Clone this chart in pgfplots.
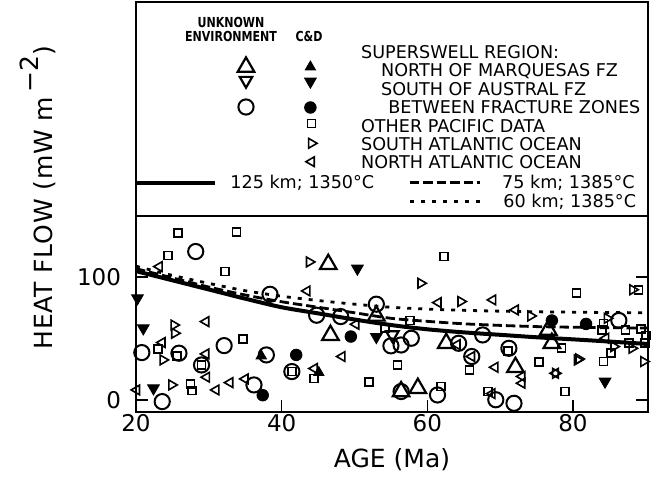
\documentclass[border=0pt]{standalone}
\usepackage{graphicx}
\usepackage{pgfplots}
\pgfplotsset{compat=1.18}
\usepackage{fontspec}
\setmainfont{DejaVu Sans}
\newcommand\legfont{\fontsize{8.8}{10.5}\selectfont}
\newcommand\hd[1]{\scalebox{0.8}[1]{\fontsize{6.9}{8}\selectfont\bfseries #1}}
\pgfplotsset{
  otri/.style={only marks, black, mark=triangle, mark size=4.8pt, mark options={line width=1.1pt}},
  odtri/.style={only marks, black, mark=triangle, mark size=3.6pt, mark options={rotate=180, line width=1.1pt}},
  ocirc/.style={only marks, black, mark=o, mark size=3.8pt, mark options={line width=1pt}},
  ftri/.style={only marks, black, mark=triangle*, mark size=3pt},
  fdtri/.style={only marks, black, mark=triangle*, mark size=3.4pt, mark options={rotate=180}},
  fcirc/.style={only marks, black, mark=*, mark size=2.9pt},
  sq/.style={only marks, black, mark=square, mark size=2pt, mark options={line width=0.8pt}},
  rtri/.style={only marks, black, mark=triangle, mark size=2.8pt, mark options={rotate=-90, line width=0.8pt}},
  ltri/.style={only marks, black, mark=triangle, mark size=2.8pt, mark options={rotate=90, line width=0.8pt}},
  csolid/.style={black, no marks, line width=2pt},
  cdash/.style={black, no marks, line width=1.4pt, dash pattern=on 4.7pt off 2pt},
  cdot/.style={black, no marks, line width=1.4pt, dash pattern=on 2pt off 3.5pt},
}
\begin{document}
\begin{tikzpicture}
\useasboundingbox (-68pt,-32.5pt) rectangle (259.5pt,206pt);
\begin{axis}[name=main, at={(0,0)}, anchor=south west, scale only axis,
  width=256pt, height=98pt,
  xmin=20, xmax=90.3, ymin=-10, ymax=150,
  xtick={20,40,60,80}, ytick={0,100}, xtick pos=bottom,
  major tick length=6pt, tick style={line width=0.8pt,black},
  axis line style={line width=1pt},
  /pgf/number format/assume math mode=true,
  ticklabel style={font=\fontsize{11.5}{13}\selectfont},
  yticklabel style={xshift=-4pt}, xticklabel style={yshift=2.3pt},
  xlabel={AGE (Ma)}, ylabel={\addfontfeature{LetterSpace=3}HEAT FLOW (mW m\,\raisebox{0.55em}{−2})},
  label style={font=\fontsize{12.5}{14}\selectfont},
  xlabel style={at={(axis description cs:0.5,-0.245)}, anchor=center},
  ylabel style={at={(axis description cs:-0.164,1.095)}, anchor=base},
]
\addplot[csolid, smooth] coordinates {(20,105) (25,97.5) (30,90) (35,82.5) (40,75.5) (45,70.5) (50,65.5) (55,61) (60,57.5) (65,55) (70,53) (75,51) (80,49.3) (85,47.5) (90.3,45.5)};
\addplot[cdash, smooth] coordinates {(20,107) (25,99.5) (30,92) (35,85.5) (40,80) (45,75.5) (50,71) (55,66.5) (60,64) (65,62) (70,60.7) (75,59.7) (80,59.2) (85,58.8) (90.3,58.5)};
\addplot[cdot, smooth] coordinates {(20,109) (25,101.5) (30,95) (35,89) (40,84.5) (45,81) (50,78) (55,75.5) (60,74) (65,73) (70,72.3) (75,71.8) (80,71.5) (85,71.2) (90.3,71)};
% other Pacific
\addplot[sq] coordinates {(25.8,135.9) (33.8,136.7) (24.4,117.7) (32.2,104.6) (34.7,49.4) (23.0,41.2) (25.6,35.8) (29.0,28.4) (27.5,12.9) (27.7,7.5) (41.4,23) (44.4,17.3) (52.0,14.5) (54.2,58.4) (57.6,64.7) (55.9,28.4) (62.3,116.9) (61.9,10.8) (65.8,24.3) (68.3,6.7) (71.1,40) (75.3,30.6) (78.4,42) (78.9,6.7) (80.5,86.9) (89.0,89.6) (84.2,62.4) (84.0,57.0) (87.2,57) (89.3,57.6) (90.0,52.6) (87.7,46.1) (85.2,38) (84.2,31.2) (89.9,46.1)};
% South Atlantic
\addplot[rtri] coordinates {(25.2,61) (25.3,54.3) (23.7,32.5) (24.9,12.1) (43.8,112.5) (59.1,95.1) (64.6,80.2) (74.2,68.4) (88.2,89.8) (84.7,66.5) (85.6,43.4) (88.1,42) (89.7,31.2) (80.6,32.5) (80.8,33.3) (77.6,21.6)};
% North Atlantic
\addplot[ltri] coordinates {(23.2,108.7) (29.6,63.8) (23.6,46.7) (29.6,37.4) (29.7,18.4) (31.0,8.0) (32.9,14.0) (35.0,17) (20.1,8) (43.5,88.8) (44.5,25.5) (48.3,35.3) (50.2,61.6) (61.5,79.3) (69.0,81.5) (72.1,73.3) (69.3,26.5) (73.0,19) (73.0,13.5) (77.6,21.6) (84.5,50.2) (64.1,45) (66.1,35.3) (68.9,5)};
% unknown environment
\addplot[otri] coordinates {(46.4,110.6) (46.7,52.7) (53.0,68.5) (62.6,46.1) (72.1,26.5) (76.6,57) (77.1,46.1) (56.4,6.7) (58.7,9.4)};
\addplot[odtri] coordinates {(55.2,53)};
\addplot[ocirc] coordinates {(28.2,121) (20.8,38.5) (25.9,38) (32.1,44.2) (29.0,28.4) (23.6,-1.5) (36.2,12.1) (37.9,36.6) (38.4,86.1) (41.4,23) (44.8,69) (48.1,67.9) (53.0,78) (55.0,44) (56.4,44.7) (57.8,50.2) (56.4,6.7) (61.4,3.9) (64.3,46.1) (66.1,35.3) (67.6,52.9) (71.2,42) (69.4,0) (71.9,-2.9) (86.3,64.7)};
% C&D
\addplot[ftri] coordinates {(37.2,35.8) (45.1,22.2)};
\addplot[fdtri] coordinates {(20.2,82.9) (21.0,58.4) (22.4,9.4) (50.4,107.1) (53.0,51.3) (84.4,14.9)};
\addplot[fcirc] coordinates {(37.4,3.7) (42.0,36.6) (49.5,51.6) (77.1,64.7) (81.8,61.9)};
\end{axis}
\begin{axis}[name=leg, at={(0,98pt)}, anchor=south west, scale only axis,
  width=256pt, height=107pt, xmin=0, xmax=512, ymin=0, ymax=214,
  xtick=\empty, ytick=\empty, axis line style={line width=1pt}, clip=false]
\node[anchor=base, inner sep=0] at (axis cs:95,188.1) {\hd{UNKNOWN}};
\node[anchor=base, inner sep=0] at (axis cs:95,174.7) {\hd{ENVIRONMENT}};
\node[anchor=base, inner sep=0] at (axis cs:173,174.7) {\hd{C\&D}};
\node[anchor=base west, inner sep=0, font=\legfont] at (axis cs:224.7,157.1) {SUPERSWELL REGION:};
\node[anchor=base west, inner sep=0, font=\legfont] at (axis cs:244.7,139.6) {NORTH OF MARQUESAS FZ};
\node[anchor=base west, inner sep=0, font=\legfont] at (axis cs:244.7,120.1) {SOUTH OF AUSTRAL FZ};
\node[anchor=base west, inner sep=0, font=\legfont] at (axis cs:252,102.1) {BETWEEN FRACTURE ZONES};
\node[anchor=base west, inner sep=0, font=\legfont] at (axis cs:224.7,83.8) {OTHER PACIFIC DATA};
\node[anchor=base west, inner sep=0, font=\legfont] at (axis cs:224.7,65.4) {SOUTH ATLANTIC OCEAN};
\node[anchor=base west, inner sep=0, font=\legfont] at (axis cs:224.7,47.1) {NORTH ATLANTIC OCEAN};
\node[anchor=base west, inner sep=0, font=\legfont] at (axis cs:94,27.1) {125 km; 1350°C};
\node[anchor=base west, inner sep=0, font=\legfont] at (axis cs:365.7,27.1) {75 km; 1385°C};
\node[anchor=base west, inner sep=0, font=\legfont] at (axis cs:367,8.8) {60 km; 1385°C};
\addplot[otri] coordinates {(110,149)};
\addplot[ftri] coordinates {(174.4,149)};
\addplot[odtri] coordinates {(110,135.5)};
\addplot[fdtri] coordinates {(174.4,134.5)};
\addplot[ocirc] coordinates {(110,109)};
\addplot[fcirc] coordinates {(174.4,108.5)};
\addplot[sq] coordinates {(175.5,92.3)};
\addplot[rtri] coordinates {(175.5,72.7)};
\addplot[ltri] coordinates {(175.5,54.3)};
\addplot[csolid] coordinates {(0,33.3) (79,33.3)};
\addplot[cdash] coordinates {(274,33.3) (344,33.3)};
\addplot[cdot] coordinates {(274,14.3) (344,14.3)};
\end{axis}
\end{tikzpicture}
\end{document}
